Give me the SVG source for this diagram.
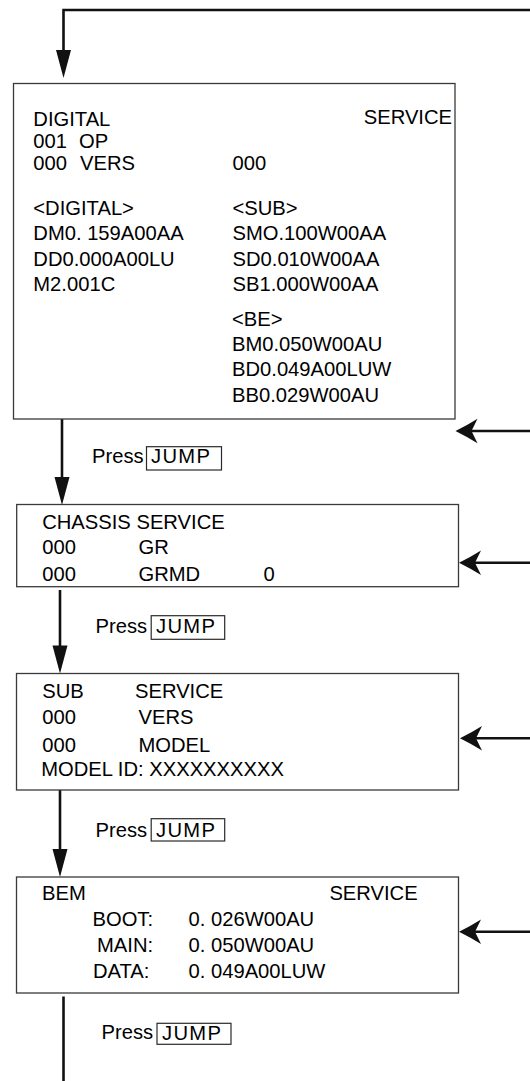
<svg xmlns="http://www.w3.org/2000/svg" xmlns:xlink="http://www.w3.org/1999/xlink" width="530" height="1081" viewBox="0 0 530 1081">
<style>
.t{font-family:"Liberation Sans",Arial,Helvetica,sans-serif;font-size:20.2px;fill:#000}
.box{fill:#fff;stroke:#3a3a3a;stroke-width:1.3}
.key{fill:#fff;stroke:#2a2a2a;stroke-width:1.2}
.ln{fill:none;stroke:#111;stroke-width:2.6}
.ah{fill:#111}
</style>
<defs>
<path id="ahDown" d="M0,0 L-7.5,-28 L7.5,-28 Z"/>
<path id="ahLeft" d="M0,0 Q12,-6 22,-12.3 L16,0 L22,12.3 Q12,6 0,0 Z"/>
</defs>
<rect width="530" height="1081" fill="#fff"/>
<g id="connectors">
<polyline class="ln" points="530,10 63.5,10 63.5,55"/>
<use href="#ahDown" class="ah" x="63.5" y="78"/>
<line class="ln" x1="62" y1="419" x2="62" y2="480"/>
<use href="#ahDown" class="ah" x="62" y="505"/>
<line class="ln" x1="60" y1="590" x2="60" y2="650"/>
<use href="#ahDown" class="ah" x="60" y="673.5"/>
<line class="ln" x1="60" y1="790" x2="60" y2="852"/>
<use href="#ahDown" class="ah" x="60" y="877"/>
<line class="ln" x1="63.5" y1="996.5" x2="63.5" y2="1081"/>
<line class="ln" x1="470" y1="431" x2="530" y2="431"/>
<use href="#ahLeft" class="ah" x="455.5" y="431"/>
<line class="ln" x1="474" y1="562.7" x2="530" y2="562.7"/>
<use href="#ahLeft" class="ah" x="459" y="562.7"/>
<line class="ln" x1="475" y1="738.3" x2="530" y2="738.3"/>
<use href="#ahLeft" class="ah" x="460" y="738.3"/>
<line class="ln" x1="474" y1="931.7" x2="530" y2="931.7"/>
<use href="#ahLeft" class="ah" x="459" y="931.7"/>
</g>
<g id="node-digital">
<rect class="box" x="13.5" y="83.5" width="441.5" height="335.5"/>
<text class="t" x="33.3" y="126">DIGITAL</text>
<text class="t" x="452" y="124" text-anchor="end">SERVICE</text>
<text class="t" x="33.3" y="147.5">001</text>
<text class="t" x="79" y="147.5">OP</text>
<text class="t" x="33.3" y="170">000</text>
<text class="t" x="80" y="170">VERS</text>
<text class="t" x="232.5" y="170">000</text>
<text class="t" x="33.3" y="215">&lt;DIGITAL&gt;</text>
<text class="t" x="232.5" y="215">&lt;SUB&gt;</text>
<text class="t" x="33.3" y="240">DM0. 159A00AA</text>
<text class="t" x="232.5" y="240">SMO.100W00AA</text>
<text class="t" x="33.3" y="265.5">DD0.000A00LU</text>
<text class="t" x="232.5" y="265.5">SD0.010W00AA</text>
<text class="t" x="33.3" y="290.5">M2.001C</text>
<text class="t" x="232.5" y="290.5">SB1.000W00AA</text>
<text class="t" x="232" y="326">&lt;BE&gt;</text>
<text class="t" x="232" y="351">BM0.050W00AU</text>
<text class="t" x="232" y="376">BD0.049A00LUW</text>
<text class="t" x="232" y="402">BB0.029W00AU</text>
</g>
<g id="label-jump-1">
<text class="t" x="92" y="463.3">Press</text>
<rect class="key" x="146.5" y="446.7" width="75" height="23.3"/>
<text class="t" x="151" y="463.3" textLength="59" lengthAdjust="spacing">JUMP</text>
</g>
<g id="node-chassis">
<rect class="box" x="16.7" y="504.5" width="441.8" height="82.2"/>
<text class="t" x="42.2" y="528.5">CHASSIS SERVICE</text>
<text class="t" x="42.2" y="554">000</text>
<text class="t" x="138.5" y="554">GR</text>
<text class="t" x="42.2" y="580.5">000</text>
<text class="t" x="138.5" y="580.5">GRMD</text>
<text class="t" x="263.5" y="580.5">0</text>
</g>
<g id="label-jump-2">
<text class="t" x="95.6" y="632.7">Press</text>
<rect class="key" x="151.2" y="615.7" width="73.5" height="23.6"/>
<text class="t" x="156" y="632.7" textLength="59" lengthAdjust="spacing">JUMP</text>
</g>
<g id="node-sub">
<rect class="box" x="16.5" y="673.5" width="442" height="116.5"/>
<text class="t" x="42.2" y="698.3">SUB</text>
<text class="t" x="135" y="698.3">SERVICE</text>
<text class="t" x="42.2" y="724">000</text>
<text class="t" x="138.5" y="724">VERS</text>
<text class="t" x="42.2" y="751.7">000</text>
<text class="t" x="138.5" y="751.7">MODEL</text>
<text class="t" x="41.2" y="776">MODEL ID: XXXXXXXXXX</text>
</g>
<g id="label-jump-3">
<text class="t" x="95.6" y="836.7">Press</text>
<rect class="key" x="151.2" y="818.7" width="73.5" height="22.3"/>
<text class="t" x="156" y="836.7" textLength="59" lengthAdjust="spacing">JUMP</text>
</g>
<g id="node-bem">
<rect class="box" x="16.5" y="877" width="442" height="116"/>
<text class="t" x="42" y="899.5">BEM</text>
<text class="t" x="329.4" y="899.5">SERVICE</text>
<text class="t" x="92.5" y="926">BOOT:</text>
<text class="t" x="188.5" y="926">0. 026W00AU</text>
<text class="t" x="97" y="952">MAIN:</text>
<text class="t" x="188.5" y="952">0. 050W00AU</text>
<text class="t" x="92.9" y="977.5">DATA:</text>
<text class="t" x="188.5" y="977.5">0. 049A00LUW</text>
</g>
<g id="label-jump-4">
<text class="t" x="101.5" y="1039">Press</text>
<rect class="key" x="157" y="1023.3" width="74" height="21"/>
<text class="t" x="162" y="1039.5" textLength="59" lengthAdjust="spacing">JUMP</text>
</g>
</svg>
